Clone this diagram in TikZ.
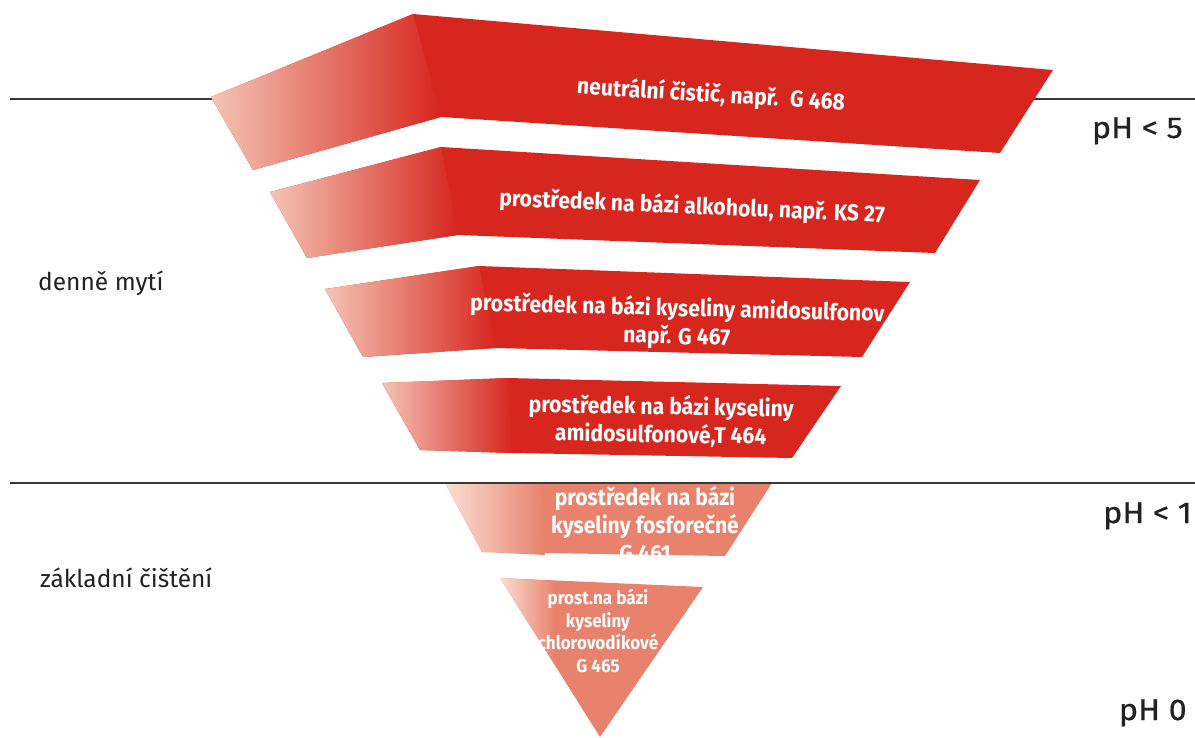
\documentclass[tikz,border=0pt]{standalone}
\usepackage{fontspec}
\setmainfont{Fira Sans}
\newfontfamily\bandfont[FakeStretch=0.92]{Fira Sans}
\newfontfamily\phfont[FakeStretch=1.08, FakeBold=0.6]{Fira Sans}
\usepackage{tikz}
\usetikzlibrary{positioning}
\definecolor{bandred}{HTML}{D6261E}
\definecolor{bandpale}{HTML}{F4C4B4}
\definecolor{acidred}{HTML}{E8826C}
\definecolor{acidpale}{HTML}{FADFD4}
\definecolor{labelgray}{HTML}{222222}

\begin{document}
\begin{tikzpicture}[x=1pt, y=-1pt,
                    bandtext/.style={text=white, font=\bandfont\bfseries\fontsize{23}{28}\selectfont, align=center, inner sep=0pt},
                    smallband/.style={bandtext, font=\bandfont\bfseries\fontsize{18.5}{22.5}\selectfont},
                    sidetext/.style={text=labelgray, font=\fontsize{24.5}{26}\selectfont, anchor=base west, inner sep=0pt},
                    phtext/.style={text=labelgray, font=\phfont\fontsize{30}{32}\selectfont, anchor=base east, inner sep=0pt},
                    hline/.style={draw=labelgray!90, line width=1.5pt}]
                    \useasboundingbox (0,0) rectangle (1195,737);
                    % upper boundary line, behind the first band
                    \draw[hline] (10,99) -- (1195,99);
                    % daily cleaning bands
                    \fill[bandred] (211,97) -- (413,14) -- (1053,70) -- (1000,153) -- (441,117) -- (253,170) -- cycle;
                    \shade[left color=bandpale, right color=bandred] (211,97) -- (413,14) -- (441,117) -- (253,170) -- cycle;
                    \fill[bandred] (270,192) -- (441,147) -- (980,180) -- (935,253) -- (458,235) -- (307,258) -- cycle;
                    \shade[left color=bandpale, right color=bandred] (270,192) -- (441,147) -- (458,235) -- (307,258) -- cycle;
                    \fill[bandred] (325,289) -- (479,266) -- (910,282) -- (862,357) -- (496,348) -- (363,357) -- cycle;
                    \shade[left color=bandpale, right color=bandred] (325,289) -- (479,266) -- (496,348) -- (363,357) -- cycle;
                    \fill[bandred] (382,383) -- (508,378) -- (841,386) -- (792,458) -- (512,453) -- (420,450) -- cycle;
                    \shade[left color=bandpale, right color=bandred] (382,383) -- (508,378) -- (512,453) -- (420,450) -- cycle;
                    % basic cleaning bands
                    \fill[acidred] (445,483) -- (772,483) -- (725,556) -- (482,552) -- cycle;
                    \shade[left color=acidpale, right color=acidred] (445,483) -- (540,483) -- (545,555) -- (482,552) -- cycle;
                    \fill[acidred] (500,578) -- (703,587) -- (600,737) -- cycle;
                    \shade[left color=acidpale, right color=acidred] (500,578) -- (555,581) -- (555,665) -- cycle;
                    % lower boundary line, over the fifth band
                    \draw[hline] (10,483) -- (1195,483);
                    \node[bandtext, rotate=-3.5] (1) at (711,95) {neutrální čistič, např.\enspace G 468};
                    \node[bandtext, rotate=-2.5] (2) at (692,207) {prostředek na bázi alkoholu, např. KS 27};
                    \node[bandtext, rotate=-1.5] (3) at (677,323) {prostředek na bázi kyseliny amidosulfonov\\např. G 467};
                    \node[bandtext, rotate=-1] (4) at (661,421) {prostředek na bázi kyseliny\\amidosulfonové,T 464};
                    \node[bandtext] (5) at (645,524) {prostředek na bázi\\kyseliny fosforečné\\G 461};
                    \node[smallband] (6) at (598,631) {prost.na bázi\\kyseliny\\chlorovodíkové\\G 465};
                    \node[sidetext] (daily) at (38,290) {denně mytí};
                    \node[sidetext] (basic) at (40,587) {základní čištění};
                    \node[phtext] (ph5) at (1183,138) {pH < 5};
                    \node[phtext] (ph1) at (1192,523) {pH < 1};
                    \node[phtext] (ph0) at (1187,720) {pH 0};
                \end{tikzpicture}
\end{document}
